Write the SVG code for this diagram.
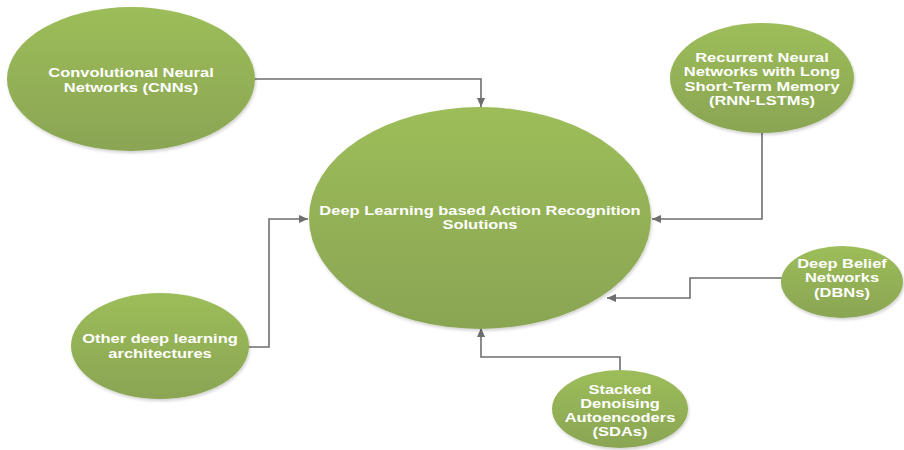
<svg xmlns="http://www.w3.org/2000/svg" width="904" height="450" viewBox="0 0 904 450">
<defs>
<linearGradient id="g" x1="0" y1="0" x2="0" y2="1">
<stop offset="0" stop-color="#9dbd5a"/>
<stop offset="1" stop-color="#8aa553"/>
</linearGradient>
<filter id="sh" x="-10%" y="-10%" width="120%" height="125%">
<feDropShadow dx="1" dy="2" stdDeviation="1.5" flood-color="#000" flood-opacity="0.18"/>
</filter>
<marker id="ah" viewBox="0 0 10 10" refX="10" refY="5" markerWidth="9" markerHeight="9" markerUnits="userSpaceOnUse" orient="auto">
<path d="M0,0.5 L10,5 L0,9.5 Z" fill="#6e6e6e"/>
</marker>
<style>
.n{fill:url(#g);filter:url(#sh);}
.t{font-family:"Liberation Sans",Arial,sans-serif;font-weight:bold;font-size:13.5px;fill:#fff;text-anchor:middle;}
.c{fill:none;stroke:#6e6e6e;stroke-width:1.6;marker-end:url(#ah);}
</style>
</defs>
<rect width="904" height="450" fill="#fff"/>
<g id="connectors">
<path class="c" d="M255,79 H481 V107"/>
<path class="c" d="M762,133 V219 H652"/>
<path class="c" d="M782,278 H690 V298 H607"/>
<path class="c" d="M248,347 H269 V219 H308"/>
<path class="c" d="M620,370 V357 H481 V328"/>
</g>
<g id="main">
<ellipse class="n" cx="480" cy="218" rx="171" ry="111"/>
<text class="t" transform="matrix(1.22 0 0 1 480 0)"><tspan x="0" y="215">Deep Learning based Action Recognition</tspan><tspan x="0" y="229.5">Solutions</tspan></text>
</g>
<g id="cnn">
<ellipse class="n" cx="131" cy="79" rx="124" ry="72"/>
<text class="t" transform="matrix(1.22 0 0 1 131 0)"><tspan x="0" y="77">Convolutional Neural</tspan><tspan x="0" y="91.5">Networks (CNNs)</tspan></text>
</g>
<g id="rnn">
<ellipse class="n" cx="762" cy="78" rx="92" ry="55"/>
<text class="t" transform="matrix(1.22 0 0 1 762 0)"><tspan x="0" y="62">Recurrent Neural</tspan><tspan x="0" y="76.5">Networks with Long</tspan><tspan x="0" y="91">Short-Term Memory</tspan><tspan x="0" y="105">(RNN-LSTMs)</tspan></text>
</g>
<g id="dbn">
<ellipse class="n" cx="842" cy="282" rx="61" ry="36"/>
<text class="t" transform="matrix(1.22 0 0 1 842 0)"><tspan x="0" y="268">Deep Belief</tspan><tspan x="0" y="282.5">Networks</tspan><tspan x="0" y="297.5">(DBNs)</tspan></text>
</g>
<g id="other">
<ellipse class="n" cx="160" cy="346" rx="89" ry="53"/>
<text class="t" transform="matrix(1.22 0 0 1 160 0)"><tspan x="0" y="343">Other deep learning</tspan><tspan x="0" y="358">architectures</tspan></text>
</g>
<g id="sda">
<ellipse class="n" cx="620" cy="409" rx="68" ry="39"/>
<text class="t" transform="matrix(1.22 0 0 1 620 0)"><tspan x="0" y="394">Stacked</tspan><tspan x="0" y="408">Denoising</tspan><tspan x="0" y="422">Autoencoders</tspan><tspan x="0" y="436">(SDAs)</tspan></text>
</g>
</svg>
